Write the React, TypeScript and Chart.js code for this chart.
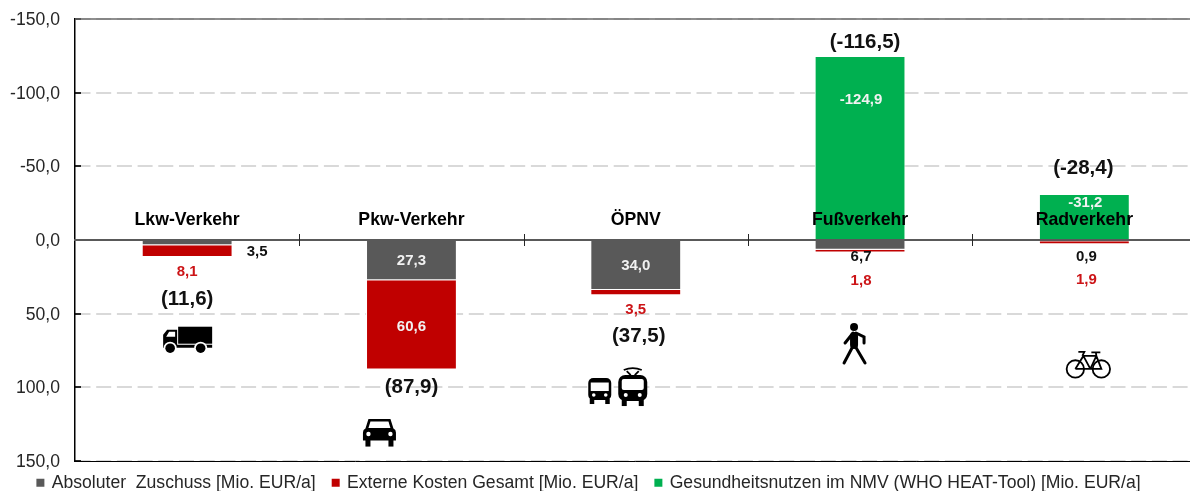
import React, { useEffect, useRef } from "react";
import { Chart, registerables } from "chart.js";

Chart.register(...registerables);

const FONT = '"Liberation Sans", Arial, sans-serif';

const categories = ["Lkw-Verkehr", "Pkw-Verkehr", "ÖPNV", "Fußverkehr", "Radverkehr"];
const zuschuss = [3.5, 27.3, 34.0, 6.7, 0.9];
const externeKosten = [8.1, 60.6, 3.5, 1.8, 1.9];
const gesundheitsnutzen = [null, null, null, -124.9, -31.2];
const gesamt = [11.6, 87.9, 37.5, -116.5, -28.4];

const seriesNames = [
  "Absoluter  Zuschuss [Mio. EUR/a]",
  "Externe Kosten Gesamt [Mio. EUR/a]",
  "Gesundheitsnutzen im NMV (WHO HEAT-Tool) [Mio. EUR/a]",
];

const GREY = "#595959";
const RED = "#c00000";
const GREEN = "#00b050";

const fmt = (v: number) => v.toFixed(1).replace(".", ",");

// Where the annotations sit: [value-axis position, pixel nudge in x]
const zuschussLabelPos: [number, number, string][] = [
  [8.1, 70, "#111111"],
  [14.3, 0, "#f2f2f2"],
  [17.6, 0, "#f2f2f2"],
  [11.5, 1, "#111111"],
  [11.5, 2, "#111111"],
];
const kostenLabelPos: [number, number, string][] = [
  [21.3, 0, "#cc1417"],
  [59, 0, "#f2f2f2"],
  [47.5, 0, "#cc1417"],
  [27.8, 1, "#cc1417"],
  [27.1, 2, "#cc1417"],
];
const nutzenLabelPos: ([number, number, string] | null)[] = [
  null,
  null,
  null,
  [-95, 1, "#f2f2f2"],
  [-25.5, 1, "#f2f2f2"],
];
const gesamtLabelPos: [number, number][] = [
  [40, 0],
  [99.8, 0],
  [65.2, 3],
  [-134, 5],
  [-48.9, -1],
];

type Ctx = CanvasRenderingContext2D;

function drawTruck(c: Ctx, x: number, y: number) {
  c.fillStyle = "#000";
  c.fillRect(x - 9, y - 12, 34, 17);
  c.beginPath();
  c.moveTo(x - 24, y + 8);
  c.lineTo(x - 24, y - 4);
  c.lineTo(x - 20, y - 9);
  c.lineTo(x - 10, y - 9);
  c.lineTo(x - 10, y + 6);
  c.lineTo(x + 25, y + 6);
  c.lineTo(x + 25, y + 9);
  c.lineTo(x - 24, y + 9);
  c.closePath();
  c.fill();
  c.fillStyle = "#fff";
  c.beginPath();
  c.moveTo(x - 21, y - 2);
  c.lineTo(x - 18, y - 7);
  c.lineTo(x - 12, y - 7);
  c.lineTo(x - 12, y - 2);
  c.closePath();
  c.fill();
  for (const wx of [x - 17, x + 13.5]) {
    c.fillStyle = "#fff";
    c.beginPath();
    c.arc(wx, y + 9.5, 6.5, 0, Math.PI * 2);
    c.fill();
    c.fillStyle = "#000";
    c.beginPath();
    c.arc(wx, y + 9.5, 4.8, 0, Math.PI * 2);
    c.fill();
  }
}

function drawCar(c: Ctx, x: number, y: number) {
  c.fillStyle = "#000";
  c.beginPath();
  c.moveTo(x - 11, y - 13.5);
  c.lineTo(x + 11, y - 13.5);
  c.lineTo(x + 14, y - 4);
  c.quadraticCurveTo(x + 16.5, y - 3, x + 16.5, y);
  c.lineTo(x + 16.5, y + 8);
  c.lineTo(x - 16.5, y + 8);
  c.lineTo(x - 16.5, y);
  c.quadraticCurveTo(x - 16.5, y - 3, x - 14, y - 4);
  c.closePath();
  c.fill();
  c.fillRect(x - 14, y + 7, 5, 7);
  c.fillRect(x + 9, y + 7, 5, 7);
  c.fillStyle = "#fff";
  c.beginPath();
  c.moveTo(x - 9, y - 11);
  c.lineTo(x + 9, y - 11);
  c.lineTo(x + 11, y - 4.5);
  c.lineTo(x - 11, y - 4.5);
  c.closePath();
  c.fill();
  for (const lx of [x - 11, x + 11]) {
    c.beginPath();
    c.arc(lx, y + 1.5, 2.2, 0, Math.PI * 2);
    c.fill();
  }
}

function drawBus(c: Ctx, x: number, y: number) {
  c.fillStyle = "#000";
  c.beginPath();
  c.roundRect(x - 11.5, y - 13, 23, 22, 5);
  c.fill();
  c.fillRect(x - 10, y + 8, 4.5, 5);
  c.fillRect(x + 5.5, y + 8, 4.5, 5);
  c.fillStyle = "#fff";
  c.fillRect(x - 9, y - 8.5, 18, 8.5);
  for (const lx of [x - 6, x + 6]) {
    c.beginPath();
    c.arc(lx, y + 4, 1.8, 0, Math.PI * 2);
    c.fill();
  }
}

function drawTram(c: Ctx, x: number, y: number) {
  c.strokeStyle = "#000";
  c.lineWidth = 1.8;
  c.beginPath();
  c.moveTo(x - 9, y - 17);
  c.quadraticCurveTo(x, y - 21, x + 9, y - 17);
  c.moveTo(x - 6, y - 16);
  c.lineTo(x - 2, y - 12);
  c.moveTo(x + 6, y - 16);
  c.lineTo(x + 2, y - 12);
  c.stroke();
  c.fillStyle = "#000";
  c.beginPath();
  c.roundRect(x - 14.5, y - 12, 29, 26, 7);
  c.fill();
  c.fillRect(x - 11, y + 13, 5, 6);
  c.fillRect(x + 6, y + 13, 5, 6);
  c.fillStyle = "#fff";
  c.beginPath();
  c.roundRect(x - 11, y - 8, 22, 11, 2);
  c.fill();
  for (const lx of [x - 7, x + 7]) {
    c.beginPath();
    c.arc(lx, y + 8, 2, 0, Math.PI * 2);
    c.fill();
  }
}

function drawWalker(c: Ctx, x: number, y: number) {
  c.fillStyle = "#000";
  c.beginPath();
  c.arc(x, y - 17, 4, 0, Math.PI * 2);
  c.fill();
  c.strokeStyle = "#000";
  c.lineCap = "round";
  c.lineWidth = 8;
  c.beginPath();
  c.moveTo(x, y - 8);
  c.lineTo(x, y + 1);
  c.stroke();
  c.lineWidth = 3;
  c.beginPath();
  c.moveTo(x - 1, y - 11);
  c.lineTo(x - 9, y - 1);
  c.moveTo(x + 2, y - 11);
  c.lineTo(x + 10, y - 7);
  c.lineTo(x + 10, y - 1);
  c.moveTo(x - 1, y + 2);
  c.lineTo(x - 10, y + 19);
  c.moveTo(x + 1, y + 2);
  c.lineTo(x + 11, y + 19);
  c.stroke();
  c.lineCap = "butt";
}

function drawBike(c: Ctx, x: number, y: number) {
  c.strokeStyle = "#000";
  c.lineWidth = 1.8;
  for (const wx of [x - 13, x + 13]) {
    c.beginPath();
    c.arc(wx, y + 4, 8.7, 0, Math.PI * 2);
    c.stroke();
  }
  c.beginPath();
  c.moveTo(x - 13, y + 4);
  c.lineTo(x - 5, y - 9);
  c.lineTo(x + 8, y - 9);
  c.lineTo(x + 13, y + 4);
  c.lineTo(x + 2, y + 4);
  c.lineTo(x - 5, y - 9);
  c.moveTo(x + 2, y + 4);
  c.lineTo(x - 13, y + 4);
  c.moveTo(x + 2, y + 4);
  c.lineTo(x + 8, y - 9);
  c.moveTo(x - 10, y - 13);
  c.lineTo(x - 4, y - 13);
  c.lineTo(x - 6, y - 9);
  c.moveTo(x + 3, y - 12.5);
  c.lineTo(x + 12, y - 12.5);
  c.moveTo(x + 7.5, y - 12.5);
  c.lineTo(x + 8, y - 9);
  c.stroke();
}

// [painter, category index, value-axis position, pixel nudge in x]
const icons: [(c: Ctx, x: number, y: number) => void, number, number, number][] = [
  [drawTruck, 0, 67, 0],
  [drawCar, 1, 130.7, -32],
  [drawBus, 2, 102.5, -36],
  [drawTram, 2, 99.8, -3],
  [drawWalker, 3, 70.6, -6],
  [drawBike, 4, 84.8, 4],
];

const annotationsPlugin = {
  id: "annotations",
  afterDraw(chart: any) {
    const { ctx, scales, chartArea } = chart;
    const x = scales.x;
    const y = scales.y;
    ctx.save();
    // frame lines at the two ends of the value axis
    ctx.lineWidth = 1.5;
    ctx.strokeStyle = "#6a6a6a";
    ctx.beginPath();
    ctx.moveTo(chartArea.left, y.getPixelForValue(-150));
    ctx.lineTo(chartArea.right, y.getPixelForValue(-150));
    ctx.stroke();
    ctx.strokeStyle = "#000";
    ctx.lineWidth = 1;
    ctx.beginPath();
    ctx.moveTo(chartArea.left, y.getPixelForValue(150) + 0.5);
    ctx.lineTo(chartArea.right, y.getPixelForValue(150) + 0.5);
    ctx.stroke();
    // cross ticks on the zero line
    const zero = y.getPixelForValue(0);
    ctx.strokeStyle = "#262626";
    ctx.lineWidth = 1;
    categories.forEach((_, i) => {
      if (i === 0) return;
      const tx = Math.round((x.getPixelForValue(i - 1) + x.getPixelForValue(i)) / 2) + 0.5;
      ctx.beginPath();
      ctx.moveTo(tx, zero - 6);
      ctx.lineTo(tx, zero + 6);
      ctx.stroke();
    });
    // value labels
    ctx.textAlign = "center";
    ctx.textBaseline = "middle";
    ctx.font = `bold 15px ${FONT}`;
    const put = (
      values: (number | null)[],
      pos: ([number, number, string] | null)[]
    ) => {
      values.forEach((v, i) => {
        const p = pos[i];
        if (v == null || !p) return;
        ctx.fillStyle = p[2];
        ctx.fillText(fmt(v), x.getPixelForValue(i) + p[1], y.getPixelForValue(p[0]));
      });
    };
    put(zuschuss, zuschussLabelPos);
    put(externeKosten, kostenLabelPos);
    put(gesundheitsnutzen, nutzenLabelPos);
    // totals
    ctx.font = `bold 20.5px ${FONT}`;
    ctx.fillStyle = "#111111";
    gesamt.forEach((v, i) => {
      const p = gesamtLabelPos[i];
      ctx.fillText(`(${fmt(v)})`, x.getPixelForValue(i) + p[1], y.getPixelForValue(p[0]));
    });
    // icons
    icons.forEach(([paint, i, v, dx]) => {
      paint(ctx, x.getPixelForValue(i) + dx, y.getPixelForValue(v));
    });
    ctx.restore();
  },
};

const legendPlacePlugin = {
  id: "legendPlace",
  beforeInit(chart: any) {
    const legend = chart.legend;
    const fit = legend.fit;
    legend.fit = function () {
      fit.call(this);
      this.height = 30;
    };
  },
  afterLayout(chart: any) {
    const legend = chart.legend;
    legend.top = 456.5;
    legend.left -= 9;
    legend.right -= 9;
  },
};

export default function App() {
  const ref = useRef<HTMLCanvasElement>(null);
  useEffect(() => {
    if (!ref.current) return;
    const chart = new Chart(ref.current, {
      type: "bar",
      data: {
        labels: categories,
        datasets: [
          { label: seriesNames[0], data: zuschuss, backgroundColor: GREY },
          { label: seriesNames[1], data: externeKosten, backgroundColor: RED },
          { label: seriesNames[2], data: gesundheitsnutzen, backgroundColor: GREEN },
        ].map((d) => ({
          ...d,
          borderColor: "#ffffff",
          borderWidth: 1,
          categoryPercentage: 1,
          barPercentage: 0.405,
        })) as any,
      },
      options: {
        animation: false,
        responsive: false,
        layout: { padding: { top: 19, right: 3.5, left: 0, bottom: 0 } },
        scales: {
          x: {
            stacked: true,
            position: { y: 0 } as any,
            afterFit(s: any) {
              s.height = 0;
              s.paddingTop = 0;
              s.paddingBottom = 0;
            },
            border: { display: true, color: "#595959", width: 2, z: 1 },
            grid: { display: false },
            ticks: {
              z: 1,
              padding: -39,
              color: "#000",
              font: { family: FONT, size: 17.7, weight: "bold" },
              maxRotation: 0,
              autoSkip: false,
            },
          },
          y: {
            stacked: true,
            reverse: true,
            min: -150,
            max: 150,
            afterFit(s: any) {
              s.width = 75;
              s.paddingTop = 0;
              s.paddingBottom = 0;
            },
            border: { display: true, color: "#000", width: 1.5, dash: [15, 5.7] },
            grid: {
              color: "#d9d9d9",
              lineWidth: 2,
              tickColor: "#262626",
              tickLength: -6,
              tickBorderDash: [],
            },
            ticks: {
              stepSize: 50,
              padding: 21,
              labelOffset: 1,
              color: "#262626",
              font: { family: FONT, size: 17.6 },
              callback: (v: any) => fmt(Number(v)),
            },
          },
        },
        plugins: {
          title: { display: false },
          tooltip: { enabled: false },
          legend: {
            display: true,
            position: "bottom",
            labels: {
              usePointStyle: true,
              pointStyle: "rect",
              boxWidth: 5,
              boxHeight: 8,
              padding: 17.5,
              color: "#262626",
              font: { family: FONT, size: 17.6 },
              generateLabels(chart: any) {
                return Chart.defaults.plugins.legend.labels
                  .generateLabels(chart)
                  .map((item: any) => ({ ...item, lineWidth: 0, pointStyle: "rect" }));
              },
            },
          },
        },
      },
      plugins: [legendPlacePlugin, annotationsPlugin],
    } as any);
    return () => chart.destroy();
  }, []);
  return (
    <div
      style={{
        position: "fixed",
        left: 0,
        top: 0,
        width: 1190,
        height: 491,
        overflow: "hidden",
        background: "#fff",
      }}
    >
      <canvas ref={ref} width={1200} height={491} style={{ display: "block" }} />
    </div>
  );
}
